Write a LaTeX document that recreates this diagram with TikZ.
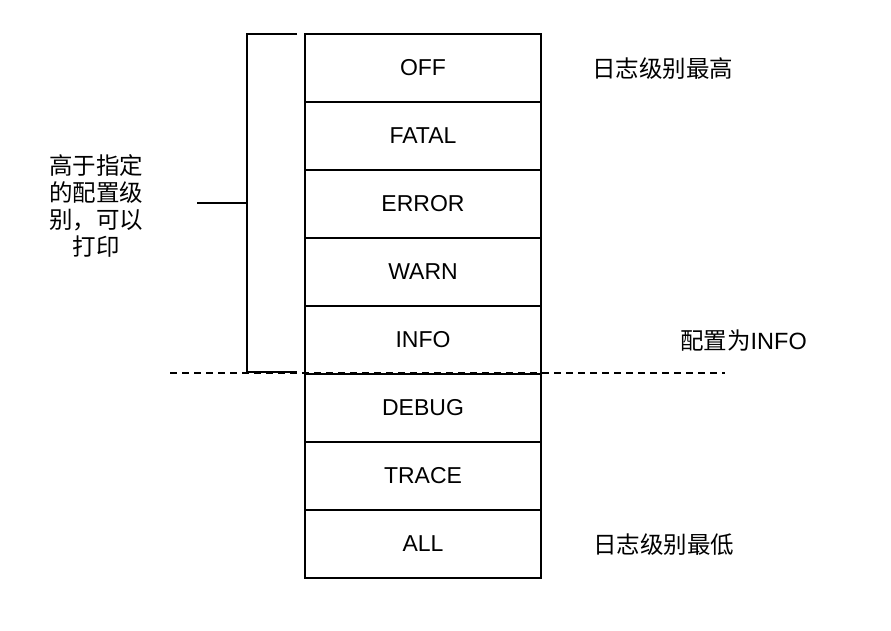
\documentclass[tikz,border=0pt]{standalone}
\usepackage{fontspec}
\setmainfont{Liberation Sans}
\newfontfamily\cjk{Noto Sans CJK SC}
\begin{document}
\begin{tikzpicture}[x=1pt,y=-1pt,
    levelbox/.style={draw,line width=2pt,minimum width=236pt,minimum height=68pt,inner sep=0pt,
        font=\fontsize{23}{27}\selectfont},
    note/.style={anchor=west,inner sep=0pt,font=\fontsize{23.5}{27}\selectfont\cjk}]
    \useasboundingbox (0,0) rectangle (891,631);
    %% the levels, highest on top
    \node[levelbox] (off) at (423,68) {OFF};
    \node[levelbox] (fatal) at (423,136) {FATAL};
    \node[levelbox] (error) at (423,204) {ERROR};
    \node[levelbox] (warn) at (423,272) {WARN};
    \node[levelbox] (info) at (423,340) {INFO};
    \node[levelbox] (debug) at (423,408) {DEBUG};
    \node[levelbox] (trace) at (423,476) {TRACE};
    \node[levelbox] (all) at (423,544) {ALL};
    %% notes on the right
    \node[note] (high) at (592,69) {日志级别最高};
    \node[note] (low) at (593,545) {日志级别最低};
    \node[note] (set) at (680,341) {配置为\fontspec{Liberation Sans}INFO};
    %% bracket and its label
    \node[align=center,inner sep=0pt,font=\fontsize{23.5}{27}\selectfont\cjk] (print) at (96,206)
        {高于指定\\的配置级\\别，可以\\打印};
    \coordinate (bt) at (297,34);
    \coordinate (bb) at (297,372);
    \coordinate (tick) at (197,203);
    \draw[line width=2pt] (bt) -| (247,372) -- (bb);
    \draw[line width=1.5pt] (tick) -- (247,203);
    %% cut between printed and not printed
    \coordinate (cutl) at (170,373);
    \coordinate (cutr) at (725,373);
    \draw[line width=1.5pt,dash pattern=on 7pt off 5pt] (cutl) -- (cutr);
\end{tikzpicture}
\end{document}
